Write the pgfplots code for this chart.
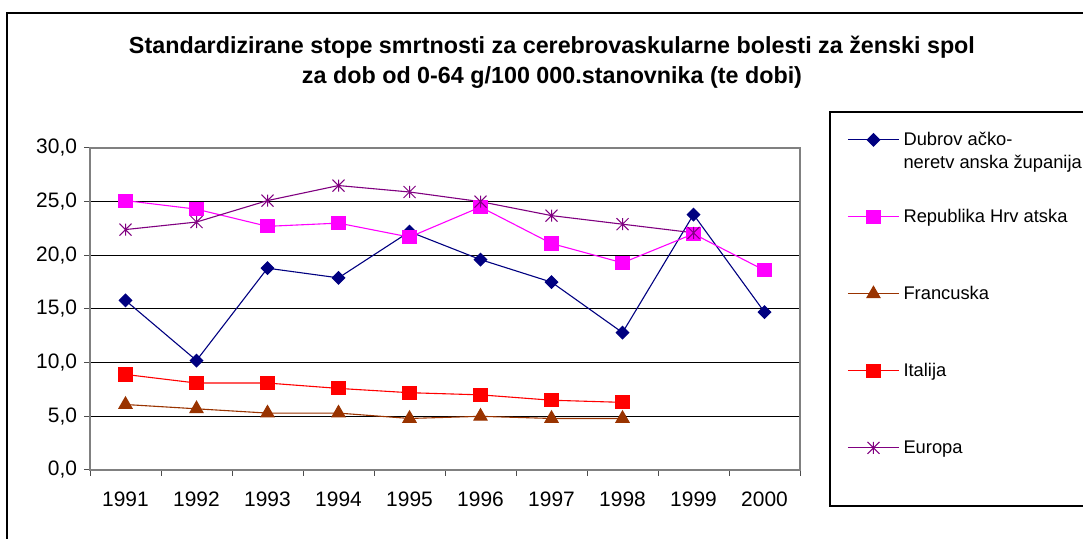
\documentclass[border=0pt]{standalone}
\usepackage{pgfplots}
\pgfplotsset{compat=1.18}
\usepackage{fontspec}
\setmainfont{Liberation Sans}
\definecolor{cDub}{HTML}{000080}
\definecolor{cHrv}{HTML}{FF00FF}
\definecolor{cFra}{HTML}{993300}
\definecolor{cIta}{HTML}{FF0000}
\definecolor{cEur}{HTML}{800080}
\pgfdeclareplotmark{xstar}{%
  \pgfpathmoveto{\pgfqpoint{-\pgfplotmarksize}{-\pgfplotmarksize}}%
  \pgfpathlineto{\pgfqpoint{\pgfplotmarksize}{\pgfplotmarksize}}%
  \pgfpathmoveto{\pgfqpoint{-\pgfplotmarksize}{\pgfplotmarksize}}%
  \pgfpathlineto{\pgfqpoint{\pgfplotmarksize}{-\pgfplotmarksize}}%
  \pgfpathmoveto{\pgfqpoint{0pt}{-\pgfplotmarksize}}%
  \pgfpathlineto{\pgfqpoint{0pt}{\pgfplotmarksize}}%
  \pgfusepathqstroke}
\begin{document}
\begin{tikzpicture}[x=0.5bp,y=0.5bp]
\useasboundingbox (0,0) rectangle (1083,539);
% outer chart frame
\draw[line width=0.8bp,black] (7,-20) -- (7,526) -- (1110,526);
% legend frame
\draw[line width=0.6bp,black] (1110,427) -- (830,427) -- (830,33) -- (1110,33);
% title
\node[align=center,font=\bfseries\fontsize{11.7}{15}\selectfont] at (552,477)
  {Standardizirane stope smrtnosti za cerebrovaskularne bolesti za ženski spol\\
   za dob od 0-64 g/100 000.stanovnika (te dobi)};
\begin{axis}[
  at={(45bp,34.5bp)}, anchor=south west,
  scale only axis, width=355bp, height=161bp,
  xmin=0.5, xmax=10.5, ymin=0, ymax=30,
  xtick={0.5,1.5,...,10.5},
  xticklabels={1991,1992,1993,1994,1995,1996,1997,1998,1999,2000},
  x tick label as interval=true,
  xticklabel style={yshift=-4.5bp},
  ytick={0,5,...,30},
  yticklabel={\pgfmathprintnumber[fixed,fixed zerofill,precision=1,use comma]{\tick}},
  /pgf/number format/assume math mode=true,
  tick label style={font=\fontsize{10.5}{12}\selectfont},
  tick align=outside, tick pos=left,
  major tick length=3bp,
  tick style={black!70, line width=0.5bp},
  axis line style={draw=black!50, line width=0.6bp},
  ymajorgrids, grid style={black, line width=0.5bp},
  every axis plot/.append style={line width=0.55bp},
  legend cell align=left,
  legend image code/.code={\draw[mark repeat=2,mark phase=2] plot coordinates {(0bp,0bp) (12.75bp,0bp) (25.5bp,0bp)};},
  legend style={draw=none, fill=none, inner sep=0pt,
    at={(axis description cs:1.0662,1.0575)}, anchor=north west,
    row sep=28.5bp, column sep=2bp,
    font=\fontsize{9.2}{11.5}\selectfont,
    nodes={inner sep=0pt, text height=8bp, text depth=2bp}},
]
\addplot[cDub, mark=square*, mark size=2.2bp, mark options={rotate=45,fill=cDub}] coordinates {
(1,15.8) (2,10.2) (3,18.8) (4,17.9) (5,22.2) (6,19.6) (7,17.5) (8,12.8) (9,23.8) (10,14.7)};
\addlegendentry{\begin{tabular}[t]{@{}l@{}}Dubrov ačko-\\neretv anska županija\end{tabular}}
\addplot[cHrv, mark=square*, mark size=3.25bp, mark options={fill=cHrv}] coordinates {
(1,25.1) (2,24.3) (3,22.7) (4,23.0) (5,21.7) (6,24.5) (7,21.1) (8,19.3) (9,22.0) (10,18.6)};
\addlegendentry{Republika Hrv atska}
\addplot[cFra, mark=triangle*, mark size=3.75bp, mark options={fill=cFra}] coordinates {
(1,6.1) (2,5.7) (3,5.3) (4,5.3) (5,4.8) (6,5.0) (7,4.8) (8,4.8)};
\addlegendentry{Francuska}
\addplot[cIta, mark=square*, mark size=3.25bp, mark options={fill=cIta}] coordinates {
(1,8.9) (2,8.1) (3,8.1) (4,7.6) (5,7.2) (6,7.0) (7,6.5) (8,6.3)};
\addlegendentry{Italija}
\addplot[cEur, mark=xstar, mark size=3bp, mark options={line width=0.5bp}] coordinates {
(1,22.4) (2,23.1) (3,25.1) (4,26.5) (5,25.9) (6,25.0) (7,23.7) (8,22.9) (9,22.1)};
\addlegendentry{Europa}
\end{axis}
\end{tikzpicture}
\end{document}
